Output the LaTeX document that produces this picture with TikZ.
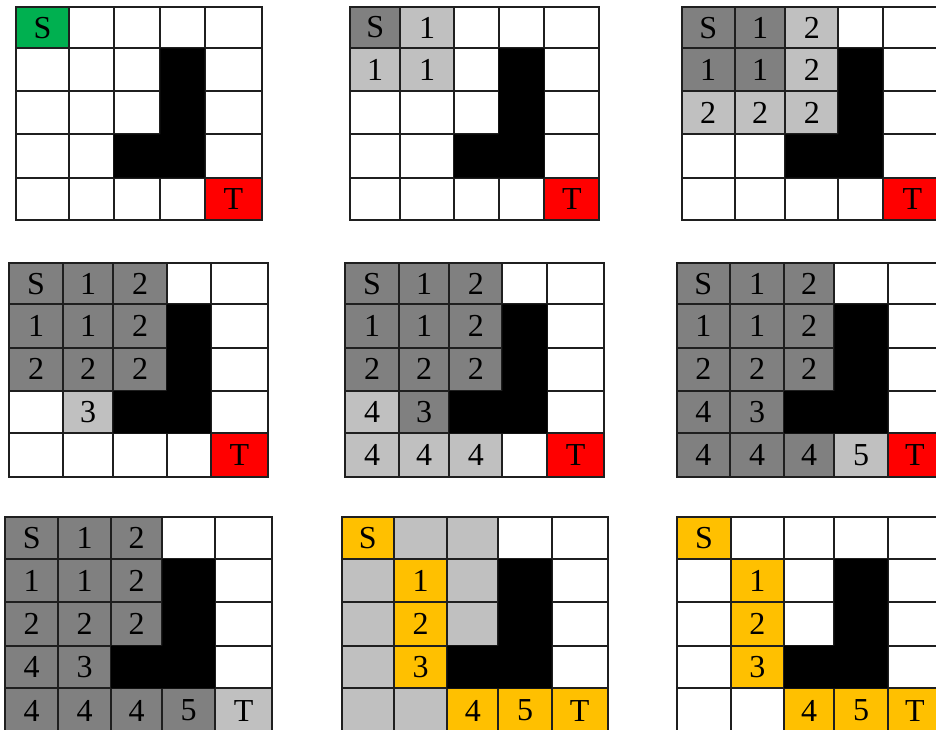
\documentclass[tikz,border=0pt]{standalone}
\usepackage{fontspec}
\setmainfont{Liberation Serif}
\newfontfamily\cellfont{Liberation Serif}
\definecolor{sgreen}{HTML}{00B050}
\definecolor{tred}{HTML}{FF0000}
\definecolor{dgray}{HTML}{808080}
\definecolor{lgray}{HTML}{C0C0C0}
\definecolor{porange}{HTML}{FFC000}
\tikzset{
  celltext/.style={inner sep=0pt, font=\cellfont\fontsize{32}{36}\selectfont, text=black},
  gridline/.style={line width=1.8pt, draw=black!88, line cap=rect},
  wall/.style={fill=black}
}
\newcommand\G[3]{\def\gid{#1}\def\gx{{#2}}\def\gy{{#3}}}
\newcommand\C[4]{%
  \pgfmathsetmacro\xa{\gx[#1]}\pgfmathsetmacro\xb{\gx[#1+1]}%
  \pgfmathsetmacro\ya{\gy[#2]}\pgfmathsetmacro\yb{\gy[#2+1]}%
  \fill[#3] (\xa,\ya) rectangle (\xb,\yb);
  \if\relax\detokenize{#4}\relax\else
  \node[celltext] (g\gid r#2c#1) at ({(\xa+\xb)/2},{(\ya+\yb)/2}) {#4};\fi}
\newcommand\Lines{%
  \pgfmathsetmacro\xl{\gx[0]}\pgfmathsetmacro\xr{\gx[5]}%
  \pgfmathsetmacro\yt{\gy[0]}\pgfmathsetmacro\yb{\gy[5]}%
  \foreach \i in {0,...,5}{%
    \pgfmathsetmacro\xx{\gx[\i]}\pgfmathsetmacro\yy{\gy[\i]}%
    \draw[gridline] (\xx,\yt) -- (\xx,\yb);
    \draw[gridline] (\xl,\yy) -- (\xr,\yy);
  }%
  \pgfmathsetmacro\xA{\gx[2]}\pgfmathsetmacro\xB{\gx[3]}\pgfmathsetmacro\xC{\gx[4]}%
  \pgfmathsetmacro\yA{\gy[1]}\pgfmathsetmacro\yB{\gy[3]}\pgfmathsetmacro\yC{\gy[4]}%
  \fill[wall] (\xB,\yA) -- (\xC,\yA) -- (\xC,\yC) -- (\xA,\yC) -- (\xA,\yB) -- (\xB,\yB) -- cycle;}
\begin{document}
\begin{tikzpicture}[x=1pt,y=-1pt]
\useasboundingbox (0,0) rectangle (936,729);
\clip (0,0) rectangle (936,729);
\fill[white] (0,0) rectangle (936,729);
% ---------- Grid 1
\G{1}{16,69,113.7,160.3,204.7,262}{7.3,48.3,91,134.3,177.7,220}
\C{0}{0}{sgreen}{S}
\C{4}{4}{tred}{T}
\Lines
% ---------- Grid 2
\G{2}{350,400.3,454,498.7,544.3,599.3}{6.7,48.3,91,134.3,177.7,220}
\C{0}{0}{dgray}{S}
\C{1}{0}{lgray}{1}
\C{0}{1}{lgray}{1}
\C{1}{1}{lgray}{1}
\C{4}{4}{tred}{T}
\Lines
% ---------- Grid 3
\G{3}{681.7,734.7,785.3,838.3,882.7,942}{7.3,48.3,91,134.3,177.7,220}
\C{0}{0}{dgray}{S}
\C{1}{0}{dgray}{1}
\C{0}{1}{dgray}{1}
\C{1}{1}{dgray}{1}
\C{2}{0}{lgray}{2}
\C{2}{1}{lgray}{2}
\C{0}{2}{lgray}{2}
\C{1}{2}{lgray}{2}
\C{2}{2}{lgray}{2}
\C{4}{4}{tred}{T}
\Lines
% ---------- Grid 4
\G{4}{9.3,62.7,113.3,166.7,210.7,268.3}{263.3,304.3,347.7,391,433.3,476.7}
\C{0}{0}{dgray}{S}
\C{1}{0}{dgray}{1}
\C{2}{0}{dgray}{2}
\C{0}{1}{dgray}{1}
\C{1}{1}{dgray}{1}
\C{2}{1}{dgray}{2}
\C{0}{2}{dgray}{2}
\C{1}{2}{dgray}{2}
\C{2}{2}{dgray}{2}
\C{1}{3}{lgray}{3}
\C{4}{4}{tred}{T}
\Lines
% ---------- Grid 5
\G{5}{345,399,449.3,502.3,547.3,604}{263.3,304.3,347.7,391,433.3,476.7}
\C{0}{0}{dgray}{S}
\C{1}{0}{dgray}{1}
\C{2}{0}{dgray}{2}
\C{0}{1}{dgray}{1}
\C{1}{1}{dgray}{1}
\C{2}{1}{dgray}{2}
\C{0}{2}{dgray}{2}
\C{1}{2}{dgray}{2}
\C{2}{2}{dgray}{2}
\C{1}{3}{dgray}{3}
\C{0}{3}{lgray}{4}
\C{0}{4}{lgray}{4}
\C{1}{4}{lgray}{4}
\C{2}{4}{lgray}{4}
\C{4}{4}{tred}{T}
\Lines
% ---------- Grid 6
\G{6}{676.7,730,784,834.3,887.7,942}{263.3,304.3,347.7,391,433.3,476.7}
\C{0}{0}{dgray}{S}
\C{1}{0}{dgray}{1}
\C{2}{0}{dgray}{2}
\C{0}{1}{dgray}{1}
\C{1}{1}{dgray}{1}
\C{2}{1}{dgray}{2}
\C{0}{2}{dgray}{2}
\C{1}{2}{dgray}{2}
\C{2}{2}{dgray}{2}
\C{1}{3}{dgray}{3}
\C{0}{3}{dgray}{4}
\C{0}{4}{dgray}{4}
\C{1}{4}{dgray}{4}
\C{2}{4}{dgray}{4}
\C{3}{4}{lgray}{5}
\C{4}{4}{tred}{T}
\Lines
% ---------- Grid 7
\G{7}{5,58.3,111,162.3,215,272.3}{517.3,559,602.3,645.7,688.3,733}
\C{0}{0}{dgray}{S}
\C{1}{0}{dgray}{1}
\C{2}{0}{dgray}{2}
\C{0}{1}{dgray}{1}
\C{1}{1}{dgray}{1}
\C{2}{1}{dgray}{2}
\C{0}{2}{dgray}{2}
\C{1}{2}{dgray}{2}
\C{2}{2}{dgray}{2}
\C{1}{3}{dgray}{3}
\C{0}{3}{dgray}{4}
\C{0}{4}{dgray}{4}
\C{1}{4}{dgray}{4}
\C{2}{4}{dgray}{4}
\C{3}{4}{dgray}{5}
\C{4}{4}{lgray}{T}
\Lines
% ---------- Grid 8
\G{8}{341.7,394,447.3,498.3,551.7,607.7}{517.3,559,602.3,645.7,688.3,733}
\C{1}{0}{lgray}{}
\C{2}{0}{lgray}{}
\C{0}{1}{lgray}{}
\C{2}{1}{lgray}{}
\C{0}{2}{lgray}{}
\C{2}{2}{lgray}{}
\C{0}{3}{lgray}{}
\C{0}{4}{lgray}{}
\C{1}{4}{lgray}{}
\C{0}{0}{porange}{S}
\C{1}{1}{porange}{1}
\C{1}{2}{porange}{2}
\C{1}{3}{porange}{3}
\C{2}{4}{porange}{4}
\C{3}{4}{porange}{5}
\C{4}{4}{porange}{T}
\Lines
% ---------- Grid 9
\G{9}{677.3,730.7,784,834.3,887.7,942}{517.3,559,602.3,645.7,688.3,733}
\C{0}{0}{porange}{S}
\C{1}{1}{porange}{1}
\C{1}{2}{porange}{2}
\C{1}{3}{porange}{3}
\C{2}{4}{porange}{4}
\C{3}{4}{porange}{5}
\C{4}{4}{porange}{T}
\Lines
\end{tikzpicture}
\end{document}
